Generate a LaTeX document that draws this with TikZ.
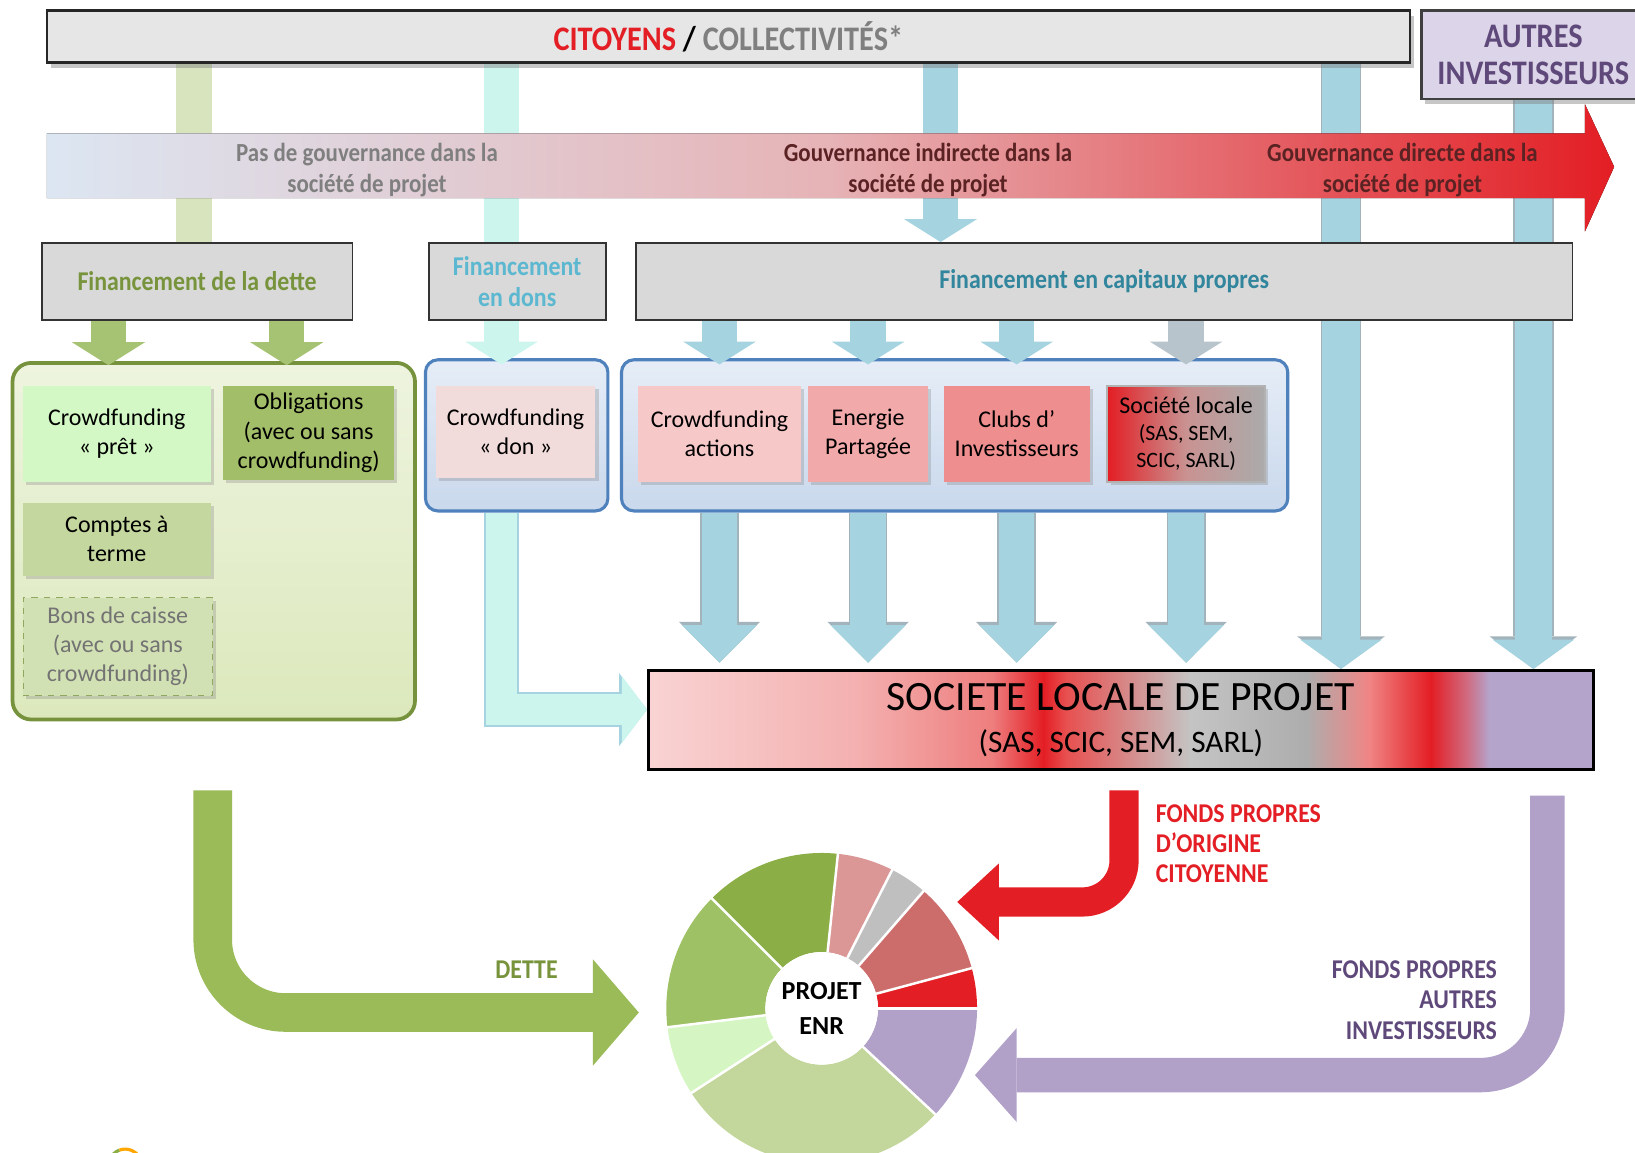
\documentclass[tikz,border=0pt]{standalone}
\usepackage{fontspec}
\setmainfont{Carlito}
\newfontfamily\condfont{Carlito}[FakeStretch=0.88]
\usetikzlibrary{positioning}
\usetikzlibrary{arrows.meta}
\usetikzlibrary{shadows}
\definecolor{citred}{HTML}{E31E24}
\definecolor{titlegray}{HTML}{7F7F7F}
\definecolor{topgray}{HTML}{E6E6E6}
\definecolor{boxgray}{HTML}{D9D9D9}
\definecolor{autfill}{HTML}{DCD4E8}
\definecolor{autpurple}{HTML}{5F497A}
\definecolor{govblue}{HTML}{DCE6F2}
\definecolor{govpink}{HTML}{E6B3B6}
\definecolor{govdark}{HTML}{5A2222}
\definecolor{dettegreen}{HTML}{77933C}
\definecolor{donscyan}{HTML}{5BB8D0}
\definecolor{captext}{HTML}{31859C}
\definecolor{bargreen}{HTML}{D7E4BD}
\definecolor{arrgreen}{HTML}{A6C273}
\definecolor{barcyan}{HTML}{CCF5EE}
\definecolor{barblue}{HTML}{A5D3E0}
\definecolor{barline}{HTML}{A3B3BB}
\definecolor{bargray}{HTML}{B8C4CC}
\definecolor{contgreenA}{HTML}{EEF4DF}
\definecolor{contgreenB}{HTML}{DCE8BC}
\definecolor{contgreenedge}{HTML}{76923C}
\definecolor{contblueA}{HTML}{E6EDF7}
\definecolor{contblueB}{HTML}{C9D8EC}
\definecolor{contblueedge}{HTML}{4F81BD}
\definecolor{pretgreen}{HTML}{D3F8C5}
\definecolor{obliggreen}{HTML}{A2BE68}
\definecolor{comptgreen}{HTML}{C4D79E}
\definecolor{bonsgreen}{HTML}{D2E1B4}
\definecolor{bonsedge}{HTML}{8FA75F}
\definecolor{donpink}{HTML}{F2DCDB}
\definecolor{actpink}{HTML}{F6C8C8}
\definecolor{enerpink}{HTML}{F2A9A9}
\definecolor{clubpink}{HTML}{EF8E8E}
\definecolor{flowgreen}{HTML}{9BBB59}
\definecolor{flowpurple}{HTML}{B1A0C7}
\definecolor{pcsalmon}{HTML}{CC6D6C}
\definecolor{pcgray}{HTML}{BFBFBF}
\definecolor{pcpink}{HTML}{DB9796}
\definecolor{pcdgreen}{HTML}{8BAE47}
\definecolor{pcmgreen}{HTML}{9EC165}
\definecolor{pclgreen}{HTML}{D5F6C3}
\definecolor{pcpgreen}{HTML}{C3D69B}
\definecolor{slpA}{HTML}{F9D3D3}
\definecolor{slpB}{HTML}{F4B0B0}
\definecolor{slpC}{HTML}{EE7E7E}
\definecolor{slpD}{HTML}{E85050}
\definecolor{slpE}{HTML}{C4C4C4}
\definecolor{slpF}{HTML}{ADADAD}
\definecolor{slpG}{HTML}{F08585}
\definecolor{slpH}{HTML}{D06A80}
\definecolor{slpI}{HTML}{B4A4CB}
\pgfdeclarehorizontalshading{slpshade}{100bp}{color(0bp)=(slpA); color(25bp)=(slpA); color(36bp)=(slpB); color(43.2bp)=(slpC); color(45.9bp)=(citred); color(47.1bp)=(slpD); color(53.7bp)=(slpE); color(59.8bp)=(slpF); color(63.1bp)=(slpG); color(66.4bp)=(citred); color(68.3bp)=(slpH); color(69.5bp)=(slpI); color(75bp)=(slpI); color(100bp)=(slpI)}
\pgfdeclarelayer{back}
\pgfsetlayers{back,main}
\tikzset{
	every node/.style={align=center, inner sep=2pt},
	topbox/.style={rectangle, draw=black!85, line width=1.2pt, fill=topgray, drop shadow={opacity=0.45, shadow xshift=2pt, shadow yshift=-2.5pt}, font=\condfont\bfseries\fontsize{16.5}{20}\selectfont},
	autbox/.style={rectangle, draw=black!75, line width=1.2pt, fill=autfill, text=autpurple, drop shadow={opacity=0.45, shadow xshift=2pt, shadow yshift=-2.5pt}, font=\condfont\bfseries\fontsize{16.5}{18}\selectfont},
	finbox/.style={rectangle, draw=black!80, line width=0.9pt, fill=boxgray, minimum height=37pt, font=\condfont\bfseries\fontsize{13}{15}\selectfont},
	govtext/.style={font=\condfont\bfseries\fontsize{12.5}{14.5}\selectfont},
	greencont/.style={rectangle, rounded corners=9pt, draw=contgreenedge, line width=1.8pt, top color=contgreenA, bottom color=contgreenB},
	bluecont/.style={rectangle, rounded corners=6pt, draw=contblueedge, line width=1.5pt, top color=contblueA, bottom color=contblueB},
	instr/.style={rectangle, inner sep=1pt, font=\fontsize{11.5}{14}\selectfont, drop shadow={opacity=0.3, shadow xshift=1.5pt, shadow yshift=-1.5pt}},
	bar/.style={line width=17pt},
	feed/.style={line width=17pt, -{Triangle[width=35pt, length=11pt, line width=0pt]}},
	down/.style={line width=17pt, -{Triangle[width=36pt, length=18pt, line width=0pt]},
		preaction={draw=barline, line width=18.6pt, -{Triangle[width=39pt, length=19.6pt, line width=0pt]}}},
	longbar/.style={line width=18pt, barblue, -{Triangle[width=39pt, length=14pt, line width=0pt]},
		preaction={draw=barline, line width=19.6pt, -{Triangle[width=42pt, length=15.6pt, line width=0pt]}}},
	cyanflow/.style={line width=15pt, barcyan, -{Triangle[width=32pt, length=12pt, line width=0pt]},
		preaction={draw=barblue, line width=16.4pt, -{Triangle[width=35pt, length=13.4pt, line width=0pt]}}},
	detteflow/.style={line width=18.5pt, flowgreen, rounded corners=35pt, -{Triangle[width=51pt, length=22pt, line width=0pt]}},
	citflow/.style={line width=14pt, citred, rounded corners=20pt, -{Triangle[width=37pt, length=20pt, line width=0pt]}},
	autflow/.style={line width=16.5pt, flowpurple, rounded corners=32pt, -{Triangle[width=45pt, length=20pt, line width=0pt]}},
	flowlbl/.style={font=\condfont\bfseries\fontsize{13}{14.5}\selectfont}
}

\begin{document}
\begin{tikzpicture}[x=0.5pt, y=-0.5pt]
	\useasboundingbox (0,0) rectangle (1568,1105);
	
	% investors
	\node (cit) [topbox, minimum width=653.5pt, minimum height=25pt] at (698.5,35) {\textcolor{citred}{CITOYENS} / \textcolor{titlegray}{COLLECTIVITÉS*}};
	\node (autres) [autbox, minimum width=107.5pt, minimum height=42.5pt] at (1470.5,52.5) {AUTRES\\INVESTISSEURS};
	
	% types of financing
	\node (dette) [finbox, minimum width=149pt, text=dettegreen] at (189,270) {Financement de la dette};
	\node (dons) [finbox, minimum width=85pt, text=donscyan] at (496,270) {Financement\\en dons};
	\node (capitaux) [finbox, minimum width=449pt, text=captext] at (1059,270) {Financement en capitaux propres};
	
	% containers
	\node (dettec) [greencont, minimum width=193pt, minimum height=171pt] at (205,519) {};
	\node (donc) [bluecont, minimum width=87.5pt, minimum height=72.5pt] at (495.5,417.5) {};
	\node (capc) [bluecont, minimum width=319.5pt, minimum height=72.5pt] at (915.5,417.5) {};
	
	% instruments
	\node (pret) [instr, fill=pretgreen, minimum width=90pt, minimum height=46pt] at (112,416) {Crowdfunding\\« prêt »};
	\node (oblig) [instr, fill=obliggreen, minimum width=82pt, minimum height=45pt] at (296,415) {Obligations\\(avec ou sans\\crowdfunding)};
	\node (comptes) [instr, fill=comptgreen, minimum width=90pt, minimum height=35pt] at (112,517) {Comptes à\\terme};
	\node (bons) [instr, fill=bonsgreen, draw=bonsedge, dashed, text=black!55, minimum width=91pt, minimum height=47pt] at (113,620) {Bons de caisse\\(avec ou sans\\crowdfunding)};
	\node (don) [instr, fill=donpink, minimum width=76.5pt, minimum height=44pt] at (494.5,414) {Crowdfunding\\« don »};
	\node (actions) [instr, fill=actpink, minimum width=78pt, minimum height=46pt] at (690,416) {Crowdfunding\\actions};
	\node (energie) [instr, fill=enerpink, minimum width=57.5pt, minimum height=46pt] at (832.5,416) {Energie\\Partagée};
	\node (clubs) [instr, fill=clubpink, minimum width=70pt, minimum height=46pt] at (975,416) {Clubs d’\\Investisseurs};
	\node (soclocale) [instr, draw=black!30, line width=1pt, left color=citred, right color=black!33, middle color=pcpink!80!gray, minimum width=75.5pt, minimum height=46pt, font=\fontsize{10.5}{13}\selectfont] at (1137.5,416) {{\fontsize{11.5}{13}\selectfont Société locale}\\(SAS, SEM,\\SCIC, SARL)};
	
	% project company
	\node (slp) [draw, line width=1.5pt, shading=slpshade, minimum width=453pt, minimum height=47.5pt, font=\fontsize{15}{17.5}\selectfont] at (1075,690.5) {{\fontsize{20}{20}\selectfont SOCIETE LOCALE DE PROJET}\\[2.5pt](SAS, SCIC, SEM, SARL)};
	
	% governance band
	\node (gov1) [govtext, text=titlegray] at (352,163) {Pas de gouvernance dans la\\société de projet};
	\node (gov2) [govtext, text=govdark] at (890,163) {Gouvernance indirecte dans la\\société de projet};
	\node (gov3) [govtext, text=govdark] at (1345,163) {Gouvernance directe dans la\\société de projet};
	
	% columns
	\coordinate (gcol) at (186,0);
	\coordinate (ccol) at (481,0);
	\coordinate (bcol) at (902,0);
	\coordinate (lcol) at (1286,0);
	\coordinate (g1) at (104,0);
	\coordinate (g2) at (275,0);
	
	\begin{pgfonlayer}{back}
		\draw[bar, bargreen] (gcol |- cit.south) -- (gcol |- dette.north);
		\draw[bar, barcyan] (ccol |- cit.south) -- (ccol |- dons.north);
		\draw[feed, barblue] (bcol |- cit.south) -- (bcol |- capitaux.north);
		\draw[longbar] (lcol |- cit.south) -- (lcol |- slp.north);
		\draw[longbar] (autres.south) -- (autres.south |- slp.north);
		\fill[left color=govblue, right color=citred, middle color=govpink] (45,128) -- (1520,128) -- (1520,100) -- (1548,160) -- (1520,222) -- (1520,190) -- (45,190) -- cycle;
	\end{pgfonlayer}
	
	% feeds
	\foreach \c in {g1,g2}
		\draw[feed, arrgreen, shorten >=-2pt] (dette.south -| \c) -- (dettec.north -| \c);
	\draw[feed, barcyan, shorten >=-3pt] (dons.south -| ccol) -- (donc.north -| ccol);
	\foreach \n in {actions,energie,clubs}
		\draw[feed, barblue, shorten >=-3pt] (capitaux.south -| \n) -- (capc.north -| \n);
	\draw[feed, bargray, shorten >=-3pt] (capitaux.south -| soclocale) -- (capc.north -| soclocale);
	\foreach \n in {actions,energie,clubs,soclocale}
		\draw[down, barblue, shorten >=3pt] (capc.south -| \n) -- (slp.north -| \n);
	\draw[cyanflow] (donc.south -| ccol) |- ([yshift=5pt]slp.west);
	
	% project pie
	\node (pie) [circle, minimum size=149pt, inner sep=0pt] at (788,967) {};
	\begin{scope}[shift={(pie.center)}, yscale=-1]
		\foreach \a/\b/\c in {0/15/citred, 15/49/pcsalmon, 49/63/pcgray, 63/84/pcpink, 84/135/pcdgreen, 135/187/pcmgreen, 187/213/pclgreen, 213/317/pcpgreen, 317/360/flowpurple}
			\fill[\c] (\a:149) arc[start angle=\a, end angle=\b, radius=149] -- (\b:54) arc[start angle=\b, end angle=\a, radius=54] -- cycle;
		\foreach \a in {0,15,49,63,84,135,187,213,317}
			\draw[white, line width=1.2pt] (\a:54) -- (\a:150);
	\end{scope}
	\node (enr) [circle, fill=white, minimum size=54pt, inner sep=0pt, font=\bfseries\fontsize{12.5}{16.5}\selectfont] at (pie.center) {PROJET\\ENR};
	
	% flows into the project
	\coordinate (dstart) at (204,758);
	\coordinate (rstart) at (1078,758);
	\coordinate (rend) at (918,865);
	\coordinate (pstart) at (1484,763);
	\coordinate (pend) at (935,1031);
	\draw[detteflow] (dstart) |- ([xshift=-13pt,yshift=-2pt]pie.west);
	\draw[citflow] (rstart) |- (rend);
	\draw[autflow] (pstart) |- (pend);
	\node (dettelbl) [flowlbl, text=dettegreen] at (505,930) {DETTE};
	\node (citlbl) [flowlbl, text=citred, align=left, anchor=north west] at (1104,767) {FONDS PROPRES\\D’ORIGINE\\CITOYENNE};
	\node (autlbl) [flowlbl, text=autpurple, align=right, anchor=north east] at (1440,917) {FONDS PROPRES\\AUTRES\\INVESTISSEURS};
	
	% logo
	\draw[line width=1.5pt, pcdgreen] (120,1118) ++(200:16) arc[start angle=200, end angle=250, radius=16];
	\draw[line width=1.5pt, orange!70!yellow] (120,1118) ++(250:16) arc[start angle=250, end angle=330, radius=16];
\end{tikzpicture}
\end{document}
